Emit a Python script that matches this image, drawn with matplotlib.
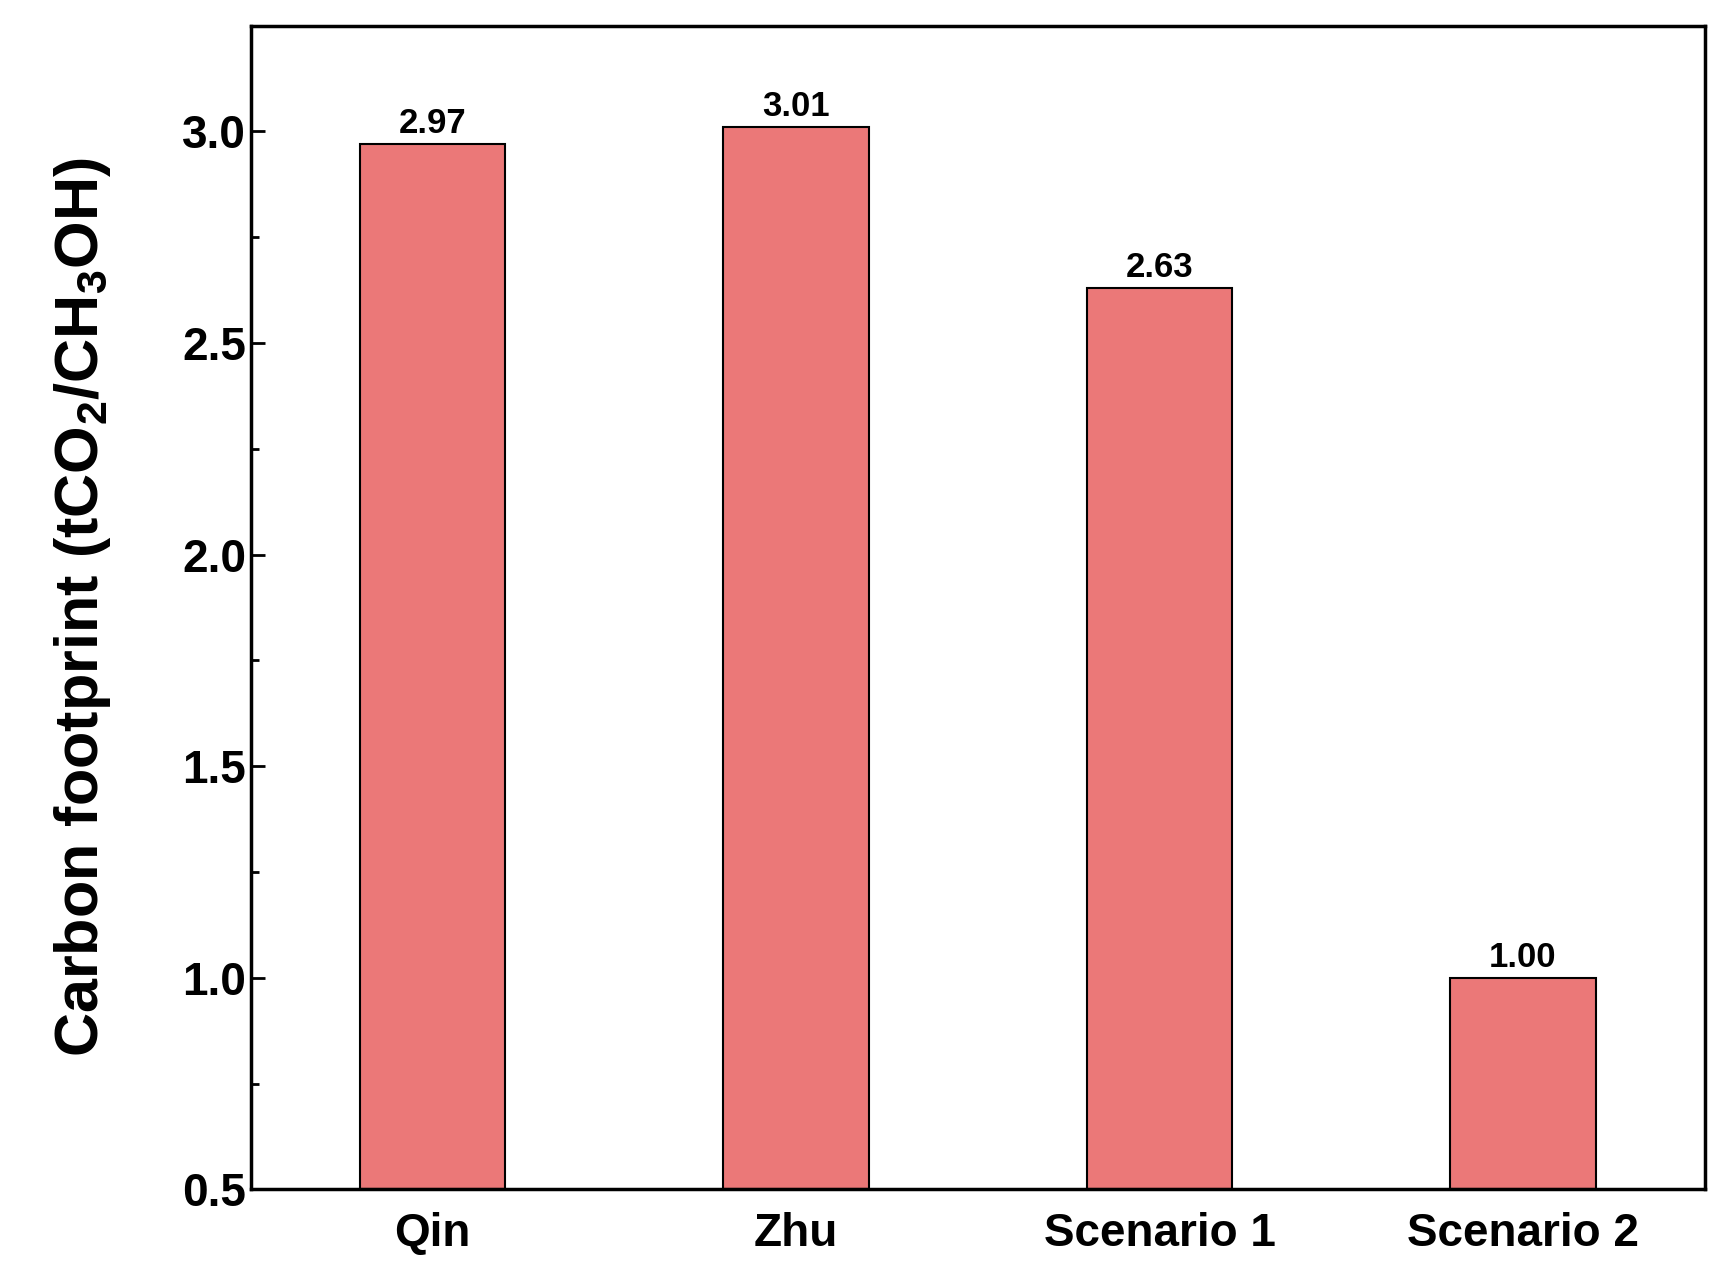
import matplotlib
matplotlib.use("Agg")
import matplotlib.pyplot as plt
from matplotlib.ticker import MultipleLocator

plt.rcParams['font.family'] = ['Liberation Sans', 'DejaVu Sans']
plt.rcParams['font.weight'] = 'bold'
plt.rcParams['mathtext.fontset'] = 'custom'
plt.rcParams['mathtext.bf'] = 'Liberation Sans:bold'
plt.rcParams['mathtext.rm'] = 'Liberation Sans:bold'
plt.rcParams['mathtext.default'] = 'bf'

categories = ["Qin", "Zhu", "Scenario 1", "Scenario 2"]
values = [2.97, 3.01, 2.63, 1.00]
labels = ["2.97", "3.01", "2.63", "1.00"]

fig = plt.figure(figsize=(17.2, 12.83), dpi=100)
ax = fig.add_axes([0.146, 0.073, 0.845, 0.907])

x = range(len(categories))
ax.bar(x, [v - 0.5 for v in values], bottom=0.5, width=0.4,
       color="#EB7878", edgecolor="black", linewidth=1.5)
for xi, v, t in zip(x, values, labels):
    ax.text(xi, v + 0.01, t, ha="center", va="bottom", fontsize=25, fontweight="bold")

ax.set_xlim(-0.5, 3.5)
ax.set_ylim(0.5, 3.25)
ax.set_xticks(list(x))
ax.set_xticklabels(categories)
ax.yaxis.set_major_locator(MultipleLocator(0.5))
ax.yaxis.set_minor_locator(MultipleLocator(0.25))
ax.tick_params(axis="y", which="both", direction="in", labelsize=33, width=2)
ax.tick_params(axis="y", which="major", length=10)
ax.tick_params(axis="y", which="minor", length=6)
ax.tick_params(axis="x", length=0, labelsize=33, pad=16)
for lab in ax.get_xticklabels() + ax.get_yticklabels():
    lab.set_fontweight("bold")
for s in ax.spines.values():
    s.set_linewidth(2.5)

ax.set_ylabel(r"Carbon footprint (tCO$_2$/CH$_3$OH)", fontsize=44, fontweight="bold", labelpad=50)

fig.savefig("out.png", dpi=100)
